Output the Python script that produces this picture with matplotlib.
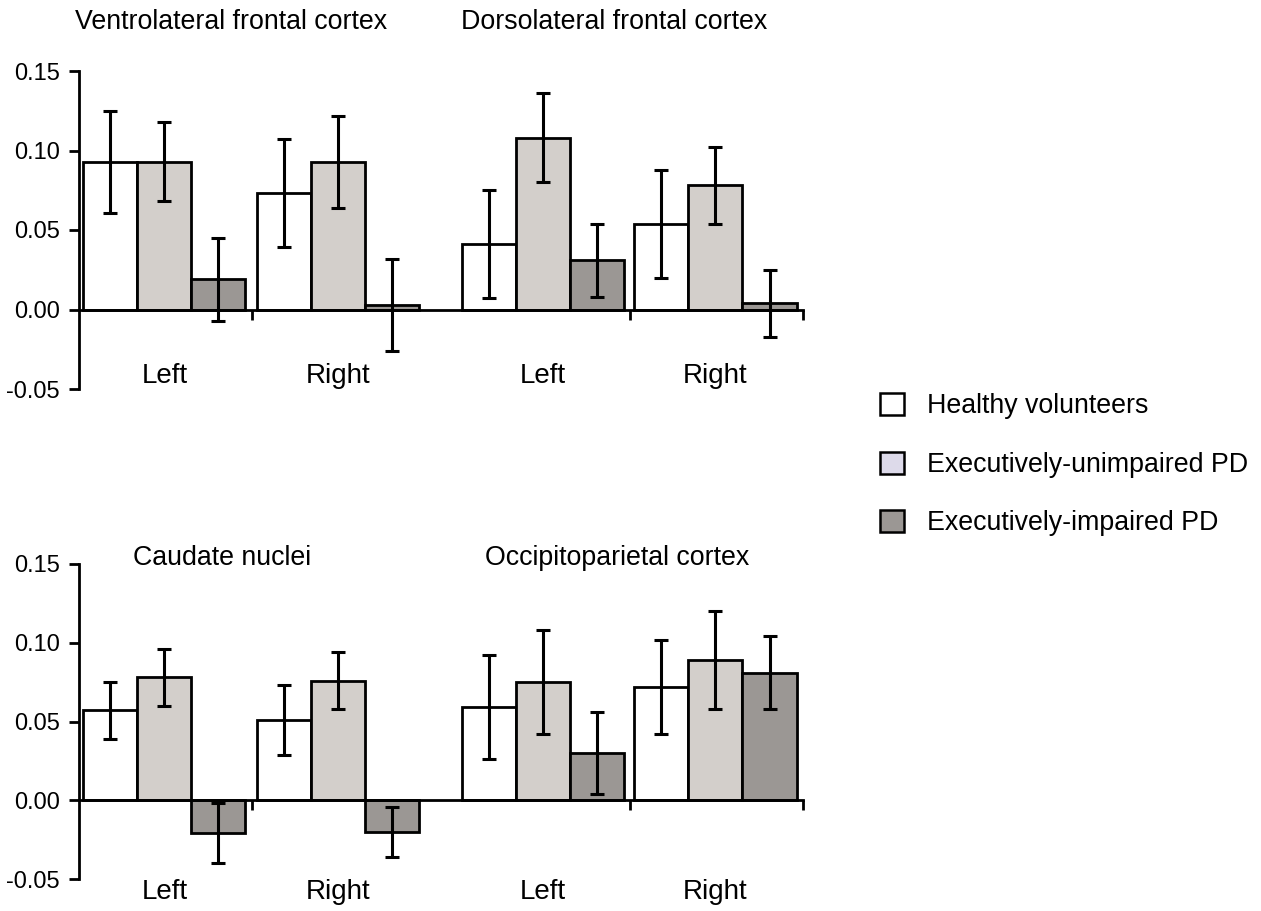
import numpy as np
import matplotlib.pyplot as plt
from matplotlib.patches import Patch

plt.rcParams["font.family"] = ["Liberation Sans", "DejaVu Sans"]
plt.rcParams["font.size"] = 19.3

# group and side labels
sides = ["Left", "Right", "Left", "Right"]
groups = ["Healthy volunteers", "Executively-unimpaired PD", "Executively-impaired PD"]

# top panel: Ventrolateral (L, R), Dorsolateral (L, R)
top_titles = ["Ventrolateral frontal cortex", "Dorsolateral frontal cortex"]
top_healthy = [0.093, 0.073, 0.041, 0.054]
top_unimp = [0.093, 0.093, 0.108, 0.078]
top_imp = [0.019, 0.003, 0.031, 0.004]
top_healthy_err = [0.032, 0.034, 0.034, 0.034]
top_unimp_err = [0.025, 0.029, 0.028, 0.024]
top_imp_err = [0.026, 0.029, 0.023, 0.021]

# bottom panel: Caudate (L, R), Occipitoparietal (L, R)
bot_titles = ["Caudate nuclei", "Occipitoparietal cortex"]
bot_healthy = [0.057, 0.051, 0.059, 0.072]
bot_unimp = [0.078, 0.076, 0.075, 0.089]
bot_imp = [-0.021, -0.020, 0.030, 0.081]
bot_healthy_err = [0.018, 0.022, 0.033, 0.030]
bot_unimp_err = [0.018, 0.018, 0.033, 0.031]
bot_imp_err = [0.019, 0.016, 0.026, 0.023]

bar_colors = ["white", "#d3cfcb", "#9b9794"]
legend_colors = ["white", "#dddaea", "#9b9794"]

group_starts = np.array([0.08, 3.3, 7.08, 10.28])
bar_w = 1.0


def draw_panel(ax, values, errs, titles, title_xy, label_y):
    for i, (vals, err) in enumerate(zip(values, errs)):
        x = group_starts + bar_w * (i + 0.5)
        ax.bar(x, vals, width=bar_w, color=bar_colors[i], edgecolor="black",
               linewidth=2, zorder=2)
        ax.errorbar(x, vals, yerr=err, fmt="none", ecolor="black",
                    elinewidth=2.2, capsize=5, capthick=2.2, zorder=3)

    ax.set_xlim(0, 13.4)
    ax.set_ylim(-0.05, 0.15)
    ax.set_yticks([-0.05, 0.0, 0.05, 0.10, 0.15])
    ax.set_yticklabels(["-0.05", "0.00", "0.05", "0.10", "0.15"], fontsize=17)
    ax.set_xticks([3.2, 10.2, 13.4])
    ax.set_xticklabels([])
    ax.tick_params(axis="both", direction="out", length=7, width=2, pad=7)
    ax.spines["top"].set_visible(False)
    ax.spines["right"].set_visible(False)
    ax.spines["bottom"].set_position(("data", 0))
    ax.spines["left"].set_linewidth(2)
    ax.spines["bottom"].set_linewidth(2)

    for xs, lab in zip(group_starts + 1.5, sides):
        ax.text(xs, label_y, lab, ha="center", va="center", fontsize=20,
                clip_on=False)
    for (tx, ty), t in zip(title_xy, titles):
        ax.text(tx, ty, t, ha="center", va="center", clip_on=False)


fig = plt.figure(figsize=(12.61, 9.11), dpi=100)
ax_top = fig.add_axes([79 / 1261, 1 - 389 / 911, 724 / 1261, 318 / 911])
ax_bot = fig.add_axes([79 / 1261, 1 - 879 / 911, 724 / 1261, 315 / 911])

draw_panel(ax_top, [top_healthy, top_unimp, top_imp],
           [top_healthy_err, top_unimp_err, top_imp_err],
           top_titles, [(2.81, 0.181), (9.9, 0.181)], -0.042)
draw_panel(ax_bot, [bot_healthy, bot_unimp, bot_imp],
           [bot_healthy_err, bot_unimp_err, bot_imp_err],
           bot_titles, [(2.65, 0.154), (9.96, 0.154)], -0.058)

handles = [Patch(facecolor=c, edgecolor="black", linewidth=1.8) for c in legend_colors]
fig.legend(handles, groups, loc="upper left",
           bbox_to_anchor=(880 / 1261, 1 - 393 / 911), frameon=False,
           borderpad=0, borderaxespad=0, handlelength=0.9, handleheight=0.9,
           handletextpad=0.85, labelspacing=1.2)

fig.savefig("out.png", dpi=100)
